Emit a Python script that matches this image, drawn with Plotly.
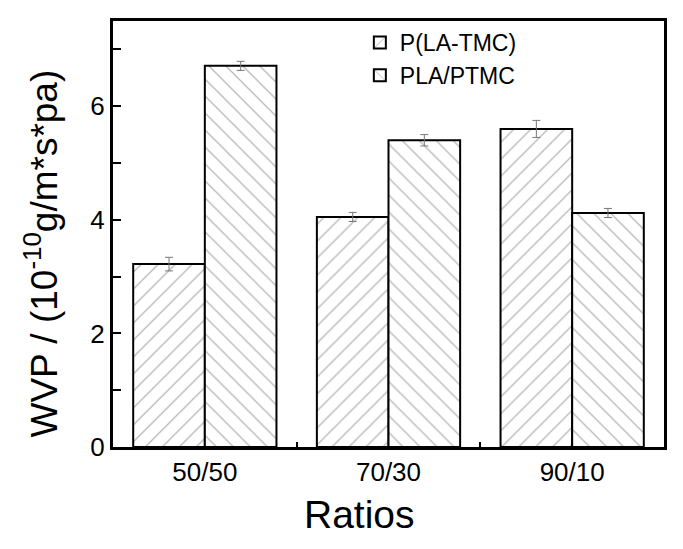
import plotly.graph_objects as go

ratios = ["50/50", "70/30", "90/10"]
copolymer = [3.22, 4.05, 5.60]
copolymer_err = [0.12, 0.08, 0.15]
blend = [6.71, 5.40, 4.12]
blend_err = [0.08, 0.10, 0.08]

fig = go.Figure()
fig.add_trace(go.Bar(
    x=ratios, y=copolymer, name="P(LA-TMC)",
    error_y=dict(type="data", array=copolymer_err, color="#777", thickness=1, width=4),
    marker=dict(color="white", line=dict(color="black", width=2),
                pattern=dict(shape="/", fgcolor="#555", bgcolor="white", size=12, solidity=0.1)),
))
fig.add_trace(go.Bar(
    x=ratios, y=blend, name="PLA/PTMC",
    error_y=dict(type="data", array=blend_err, color="#777", thickness=1, width=4),
    marker=dict(color="white", line=dict(color="black", width=2),
                pattern=dict(shape="\\", fgcolor="#555", bgcolor="white", size=12, solidity=0.1)),
))

axis_style = dict(showline=True, mirror=True, linecolor="black", linewidth=3,
                  ticks="inside", tickwidth=2, tickcolor="black", showgrid=False, zeroline=False)

fig.update_layout(
    width=667, height=533,
    margin=dict(l=105, r=8, t=13, b=94),
    plot_bgcolor="white", paper_bgcolor="white",
    font=dict(family="Liberation Sans, Arial", color="black", size=24),
    barmode="group", bargap=0.22, bargroupgap=0,
    legend=dict(x=0.448, y=1.0, xanchor="left", yanchor="top",
                font=dict(size=23), bgcolor="rgba(0,0,0,0)", tracegroupgap=0),
    xaxis=dict(axis_style, tickson="boundaries", ticklen=5, tickfont=dict(size=26)),
    yaxis=dict(axis_style, range=[0, 7.5], dtick=2, ticklen=8,
               minor=dict(dtick=1, ticks="inside", ticklen=8, tickwidth=2, tickcolor="black"),
               tickfont=dict(size=26)),
)

# axis titles as annotations (the original sits a bit off-centre)
fig.add_annotation(text="Ratios", xref="paper", yref="paper", x=0.447, y=-0.158,
                   xanchor="center", yanchor="middle", showarrow=False, font=dict(size=39))
fig.add_annotation(text="WVP / (10<sup>-10</sup>g/m*s*pa)", xref="paper", yref="paper",
                   x=-0.13, y=0.455, xanchor="center", yanchor="middle", textangle=-90,
                   showarrow=False, font=dict(size=37))

fig.write_html("out.html")
